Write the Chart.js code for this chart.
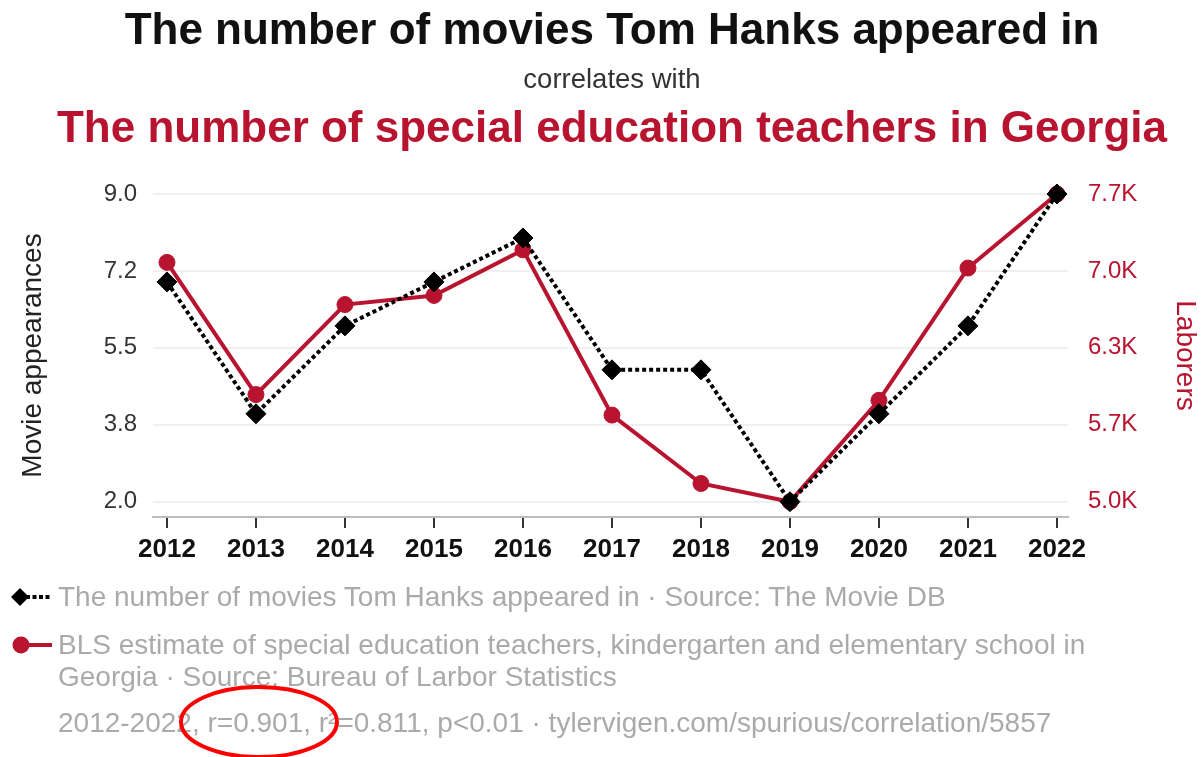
<!DOCTYPE html>
<html><head><meta charset="utf-8">
<script src="https://cdn.jsdelivr.net/npm/chart.js@4"></script>
<style>
html,body{margin:0;padding:0;background:#fff;}
body{width:1202px;height:757px;position:relative;overflow:hidden;font-family:"Liberation Sans",Arial,sans-serif;}
#c{position:absolute;left:0;top:0;}
.t{position:absolute;left:11px;width:1202px;text-align:center;white-space:nowrap;}
.lg{position:absolute;left:58px;font-size:28px;line-height:32px;color:#aaa;white-space:nowrap;}
svg.ov{position:absolute;left:0;top:0;}
</style></head>
<body>
<canvas id="c" width="1202" height="757"></canvas>
<div class="t" style="top:7px;font-size:44px;line-height:44px;font-weight:bold;color:#111;">The number of movies Tom Hanks appeared in</div>
<div class="t" style="top:65px;font-size:27.5px;line-height:28px;color:#333;">correlates with</div>
<div class="t" style="top:105px;font-size:44px;line-height:44px;font-weight:bold;color:#b8142f;">The number of special education teachers in Georgia</div>
<div class="lg" style="top:581px;">The number of movies Tom Hanks appeared in · Source: The Movie DB</div>
<div class="lg" style="top:629px;">BLS estimate of special education teachers, kindergarten and elementary school in<br>Georgia · Source: Bureau of Larbor Statistics</div>
<div class="lg" style="top:707px;">2012-2022, r=0.901, r²=0.811, p&lt;0.01 · tylervigen.com/spurious/correlation/5857</div>
<svg class="ov" width="1202" height="757">
  <line x1="26" y1="597" x2="52" y2="597" stroke="#000" stroke-width="4" stroke-dasharray="4,2.5"/>
  <polygon points="11,597 20,588 29,597 20,606" fill="#000"/>
  <line x1="22" y1="645" x2="52" y2="645" stroke="#b8142f" stroke-width="4"/>
  <circle cx="21" cy="645" r="8.5" fill="#b8142f"/>
  <ellipse cx="259" cy="722" rx="78" ry="35" fill="none" stroke="#f00" stroke-width="4"/>
</svg>
<script>
const years = [2012, 2013, 2014, 2015, 2016, 2017, 2018, 2019, 2020, 2021, 2022];
const movies = [7, 4, 6, 7, 8, 5, 5, 2, 4, 6, 9];
const teachers = [7100, 5940, 6730, 6810, 7210, 5760, 5160, 5000, 5890, 7050, 7700];
const leftTicks = [2, 3.75, 5.5, 7.25, 9];
const leftTickLabels = ['2.0', '3.8', '5.5', '7.2', '9.0'];
const rightTicks = [5000, 5675, 6350, 7025, 7700];
const rightTickLabels = ['5.0K', '5.7K', '6.3K', '7.0K', '7.7K'];

const RED = '#b8142f';
const FONT = '"Liberation Sans", Arial, sans-serif';

new Chart(document.getElementById('c').getContext('2d'), {
  type: 'line',
  data: {
    datasets: [
      {
        label: 'The number of movies Tom Hanks appeared in',
        data: years.map((y, i) => ({x: y, y: movies[i]})),
        yAxisID: 'y',
        borderColor: '#000', borderWidth: 4, borderDash: [4, 3],
        pointStyle: 'rectRot', pointRadius: 10, pointBackgroundColor: '#000',
        pointBorderColor: '#000', pointBorderWidth: 1, clip: false, tension: 0
      },
      {
        label: 'BLS estimate of special education teachers',
        data: years.map((y, i) => ({x: y, y: teachers[i]})),
        yAxisID: 'y1',
        borderColor: RED, borderWidth: 4,
        pointStyle: 'circle', pointRadius: 8, pointBackgroundColor: RED,
        pointBorderColor: RED, pointBorderWidth: 1, clip: false, tension: 0
      }
    ]
  },
  options: {
    responsive: false, animation: false, devicePixelRatio: 1,
    layout: {padding: {left: 0, right: 0, top: 194, bottom: 180}},
    plugins: {legend: {display: false}, tooltip: {enabled: false}, title: {display: false}},
    scales: {
      x: {
        type: 'linear', min: 2011.843, max: 2022.124,
        afterBuildTicks: s => { s.ticks = years.map(v => ({value: v})); },
        afterFit: s => { s.height = 60; },
        grid: {display: true, drawOnChartArea: false, drawTicks: true, tickLength: 11, color: '#333', lineWidth: 2},
        border: {display: true, color: '#bbb', width: 2},
        ticks: {font: {family: FONT, size: 26, weight: 'bold'}, color: '#111', padding: 6,
                maxRotation: 0, autoSkip: false, callback: (v, i) => String(years[i])}
      },
      y: {
        position: 'left', min: 1.652, max: 9,
        afterBuildTicks: s => { s.ticks = leftTicks.map(v => ({value: v})); },
        afterFit: s => { s.width = 153; },
        grid: {color: '#f0f0f0', lineWidth: 2, drawTicks: false},
        border: {display: false},
        ticks: {padding: 16, color: '#333', font: {family: FONT, size: 24}, callback: (v, i) => leftTickLabels[i]},
        title: {display: true, text: 'Movie appearances', color: '#222', font: {family: FONT, size: 28}, padding: {top: 16, bottom: 0}}
      },
      y1: {
        position: 'right', min: 4866, max: 7700,
        afterBuildTicks: s => { s.ticks = rightTicks.map(v => ({value: v})); },
        afterFit: s => { s.width = 134; },
        grid: {display: false, drawTicks: false},
        border: {display: false},
        ticks: {padding: 20, color: RED, font: {family: FONT, size: 24}, callback: (v, i) => rightTickLabels[i]},
        title: {display: true, text: 'Laborers', color: RED, font: {family: FONT, size: 28}, padding: {top: 0, bottom: 0}}
      }
    }
  }
});
</script>
</body></html>
